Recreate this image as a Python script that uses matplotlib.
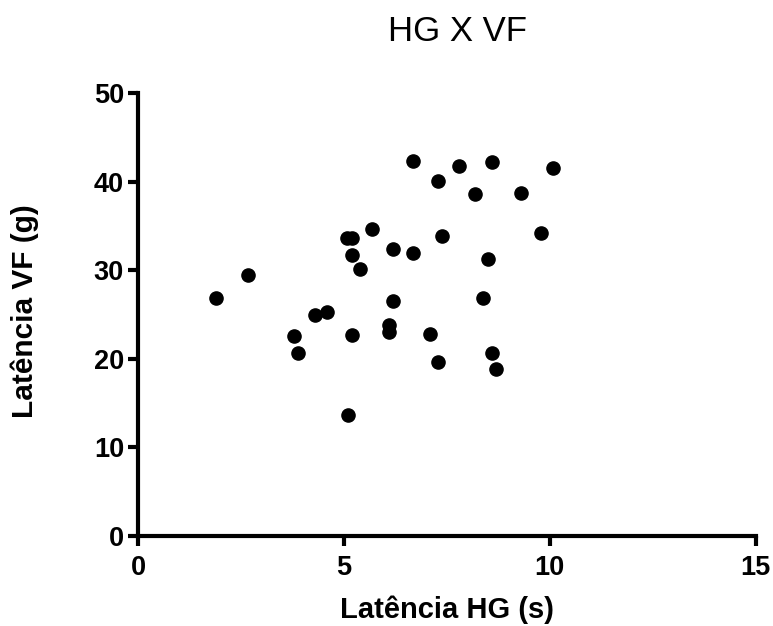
import matplotlib
matplotlib.use("Agg")
import matplotlib.pyplot as plt

# latencias
hg = [1.89, 2.67, 3.79, 3.89, 4.29, 4.60, 5.07, 5.21, 5.19, 5.19, 5.09,
      5.39, 5.69, 6.19, 6.19, 6.10, 6.10, 6.69, 6.69, 7.79, 8.60, 10.09,
      7.29, 8.19, 9.30, 7.39, 9.80, 8.49, 8.39, 7.09, 8.59, 7.29, 8.70]
vf = [26.9, 29.5, 22.6, 20.7, 24.9, 25.3, 33.6, 33.6, 31.7, 22.7, 13.6,
      30.1, 34.6, 32.4, 26.5, 23.8, 23.0, 42.3, 31.9, 41.8, 42.2, 41.5,
      40.1, 38.6, 38.7, 33.9, 34.2, 31.3, 26.9, 22.8, 20.7, 19.6, 18.9]

plt.rcParams['font.family'] = ['Liberation Sans', 'DejaVu Sans']

fig = plt.figure(figsize=(7.73, 6.26), dpi=100)
ax = fig.add_axes([0.1785, 0.1438, 0.7989, 0.7076])

ax.scatter(hg, vf, s=90, color='black', zorder=3, clip_on=False)

ax.set_xlim(0, 15)
ax.set_ylim(0, 50)
ax.set_xticks([0, 5, 10, 15])
ax.set_yticks([0, 10, 20, 30, 40, 50])

ax.spines['top'].set_visible(False)
ax.spines['right'].set_visible(False)
for s in ['left', 'bottom']:
    ax.spines[s].set_linewidth(3)
ax.tick_params(direction='out', length=7, width=3, labelsize=19.5)
ax.tick_params(axis='x', pad=7)
ax.tick_params(axis='y', pad=3)
for lab in ax.get_xticklabels() + ax.get_yticklabels():
    lab.set_fontweight('bold')

ax.set_xlabel('Latência HG (s)', fontsize=21, fontweight='bold', va='center')
ax.set_ylabel('Latência VF (g)', fontsize=21.5, fontweight='bold', va='center')
ax.xaxis.set_label_coords(0.5, -0.167)
ax.yaxis.set_label_coords(-0.183, 0.508)
ax.text(0.517, 1.138, 'HG X VF', fontsize=25, ha='center', va='center',
        transform=ax.transAxes)

fig.savefig('out.png', dpi=100)
